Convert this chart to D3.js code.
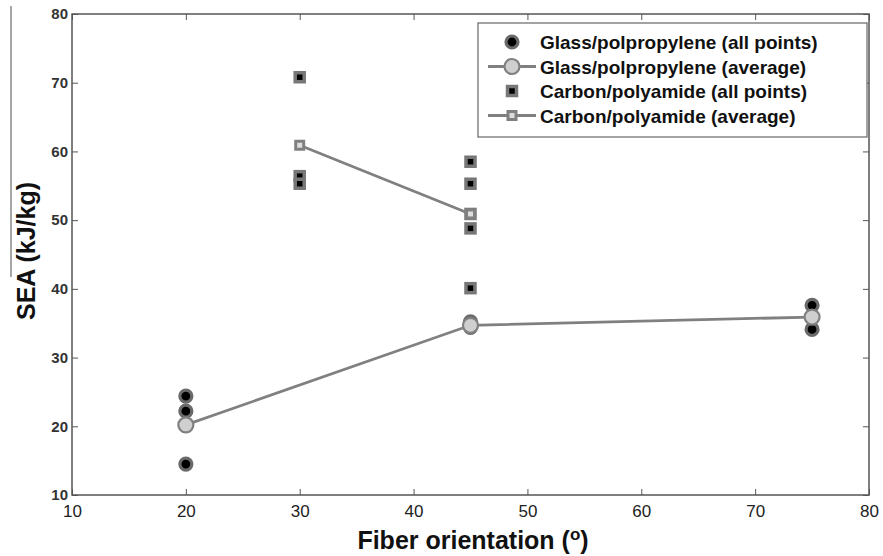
<!DOCTYPE html>
<html>
<head>
<meta charset="utf-8">
<script src="https://cdn.jsdelivr.net/npm/d3@7"></script>
<style>
  body { margin: 0; background: #fff; }
  svg { display: block; }
</style>
</head>
<body>
<svg width="883" height="556"></svg>
<script>
var width = 883;
var height = 556;

// glass/polypropylene: every measurement and the average per orientation
var glassX = [20, 20, 20, 45, 45, 75, 75];
var glassY = [24.4, 22.2, 14.5, 35.2, 34.4, 37.6, 34.1];
var glassAvgX = [20, 45, 75];
var glassAvgY = [20.2, 34.7, 35.9];

// carbon/polyamide
var carbonX = [30, 30, 30, 45, 45, 45, 45, 45];
var carbonY = [70.8, 56.4, 55.3, 58.5, 55.3, 50.9, 48.8, 40.1];
var carbonAvgX = [30, 45];
var carbonAvgY = [60.9, 50.9];

var xTicks = [10, 20, 30, 40, 50, 60, 70, 80];
var yTicks = [10, 20, 30, 40, 50, 60, 70, 80];
var legendLabels = [
    "Glass/polpropylene (all points)",
    "Glass/polpropylene (average)",
    "Carbon/polyamide (all points)",
    "Carbon/polyamide (average)"
];

var svg = d3.select('svg');
// note: "top" is reserved on window, so plot edges get their own names
var plotLeft = 72, plotRight = 869, plotTop = 14, plotBottom = 495;

var x = d3.scaleLinear().domain([10, 80]).range([plotLeft, plotRight]);
var y = d3.scaleLinear().domain([10, 80]).range([plotBottom, plotTop]);

// stray line at the left edge of the scanned figure
svg.append("line")
    .attr("x1", 11).attr("x2", 11)
    .attr("y1", 6).attr("y2", 277)
    .attr("stroke", "#8a8a8a")
    .attr("stroke-width", 1.5);

// axes, ticks pointing inward on all four sides
var axisColor = "#555";
svg.append("g")
    .attr("transform", "translate(0," + plotBottom + ")")
    .call(d3.axisBottom(x).tickValues(xTicks).tickSizeInner(-6).tickSizeOuter(0).tickPadding(4))
    .call(function (g) {
        g.select(".domain").remove();
        g.selectAll("line").attr("stroke", axisColor);
        g.selectAll("text").attr("fill", "#222")
            .attr("dy", "1.05em")
            .attr("font-family", "'Liberation Sans Narrow', 'Liberation Sans', Arial, sans-serif")
            .attr("font-size", "17px");
    });
svg.append("g")
    .attr("transform", "translate(0," + plotTop + ")")
    .call(d3.axisTop(x).tickValues(xTicks).tickSizeInner(-6).tickSizeOuter(0).tickFormat(""))
    .call(function (g) {
        g.select(".domain").remove();
        g.selectAll("line").attr("stroke", axisColor);
    });
svg.append("g")
    .attr("transform", "translate(" + plotLeft + ",0)")
    .call(d3.axisLeft(y).tickValues(yTicks).tickSizeInner(-6).tickSizeOuter(0).tickPadding(4))
    .call(function (g) {
        g.select(".domain").remove();
        g.selectAll("line").attr("stroke", axisColor);
        g.selectAll("text").attr("fill", "#333")
            .attr("font-family", "'Liberation Sans', Arial, sans-serif")
            .attr("font-weight", "bold")
            .attr("font-size", "15px");
    });
svg.append("g")
    .attr("transform", "translate(" + plotRight + ",0)")
    .call(d3.axisRight(y).tickValues(yTicks).tickSizeInner(-6).tickSizeOuter(0).tickFormat(""))
    .call(function (g) {
        g.select(".domain").remove();
        g.selectAll("line").attr("stroke", axisColor);
    });

svg.append("rect")
    .attr("x", plotLeft).attr("y", plotTop)
    .attr("width", plotRight - plotLeft).attr("height", plotBottom - plotTop)
    .attr("fill", "none")
    .attr("stroke", axisColor)
    .attr("stroke-width", 1.5);

// axis titles
svg.append("text")
    .attr("transform", "translate(35,251) rotate(-90)")
    .attr("text-anchor", "middle")
    .attr("font-family", "'Liberation Sans', Arial, sans-serif")
    .attr("font-weight", "bold")
    .attr("font-size", "25px")
    .attr("fill", "#111")
    .text("SEA (kJ/kg)");

var xTitle = svg.append("text")
    .attr("x", 473).attr("y", 549)
    .attr("text-anchor", "middle")
    .attr("font-family", "'Liberation Sans Narrow', 'Liberation Sans', Arial, sans-serif")
    .attr("font-weight", "bold")
    .attr("font-size", "25px")
    .attr("fill", "#111");
xTitle.append("tspan").text("Fiber orientation (");
xTitle.append("tspan").attr("dy", -9).attr("font-size", "17px").text("o");
xTitle.append("tspan").attr("dy", 9).text(")");

// marker helpers
function allCircle(sel) {
    sel.attr("r", 6).attr("fill", "#000").attr("stroke", "#6a6a6a").attr("stroke-width", 3.2);
}
function avgCircle(sel) {
    sel.attr("r", 7.5).attr("fill", "#cfcfcf").attr("stroke", "#808080").attr("stroke-width", 2.2);
}
function allSquare(sel, s) {
    sel.attr("width", s).attr("height", s).attr("fill", "#000").attr("stroke", "#777").attr("stroke-width", 3.5);
}
function avgSquare(sel, s) {
    sel.attr("width", s).attr("height", s).attr("fill", "#ddd").attr("stroke", "#808080").attr("stroke-width", 3);
}

var line = d3.line()
    .x(function (d) { return x(d[0]); })
    .y(function (d) { return y(d[1]); });

// carbon/polyamide
svg.selectAll(".carbon-pt")
    .data(d3.zip(carbonX, carbonY))
    .enter().append("rect")
    .attr("class", "carbon-pt")
    .attr("x", function (d) { return x(d[0]) - 4.5; })
    .attr("y", function (d) { return y(d[1]) - 4.5; })
    .call(allSquare, 9);

svg.append("path")
    .datum(d3.zip(carbonAvgX, carbonAvgY))
    .attr("d", line)
    .attr("fill", "none")
    .attr("stroke", "#808080")
    .attr("stroke-width", 2.8);

svg.selectAll(".carbon-avg")
    .data(d3.zip(carbonAvgX, carbonAvgY))
    .enter().append("rect")
    .attr("class", "carbon-avg")
    .attr("x", function (d) { return x(d[0]) - 4; })
    .attr("y", function (d) { return y(d[1]) - 4; })
    .call(avgSquare, 8);

// glass/polypropylene
svg.selectAll(".glass-pt")
    .data(d3.zip(glassX, glassY))
    .enter().append("circle")
    .attr("class", "glass-pt")
    .attr("cx", function (d) { return x(d[0]); })
    .attr("cy", function (d) { return y(d[1]); })
    .call(allCircle);

svg.append("path")
    .datum(d3.zip(glassAvgX, glassAvgY))
    .attr("d", line)
    .attr("fill", "none")
    .attr("stroke", "#808080")
    .attr("stroke-width", 2.8);

svg.selectAll(".glass-avg")
    .data(d3.zip(glassAvgX, glassAvgY))
    .enter().append("circle")
    .attr("class", "glass-avg")
    .attr("cx", function (d) { return x(d[0]); })
    .attr("cy", function (d) { return y(d[1]); })
    .call(avgCircle);

// legend
var legend = svg.append("g").attr("transform", "translate(478,23)");
legend.append("rect")
    .attr("width", 389).attr("height", 114)
    .attr("fill", "#fff")
    .attr("stroke", "#666")
    .attr("stroke-width", 1.2);

var rowY = function (i) { return 19 + i * 24.5; };
var sx = 34;

legend.append("circle").attr("cx", sx).attr("cy", rowY(0)).call(allCircle);
legend.append("line")
    .attr("x1", 10).attr("x2", 58).attr("y1", rowY(1)).attr("y2", rowY(1))
    .attr("stroke", "#808080").attr("stroke-width", 2.8);
legend.append("circle").attr("cx", sx).attr("cy", rowY(1)).call(avgCircle);
legend.append("rect").attr("x", sx - 4.5).attr("y", rowY(2) - 4.5).call(allSquare, 9);
legend.append("line")
    .attr("x1", 10).attr("x2", 58).attr("y1", rowY(3)).attr("y2", rowY(3))
    .attr("stroke", "#808080").attr("stroke-width", 2.8);
legend.append("rect").attr("x", sx - 4).attr("y", rowY(3) - 4).call(avgSquare, 8);

legend.selectAll(".leg-text")
    .data(legendLabels)
    .enter().append("text")
    .attr("class", "leg-text")
    .attr("x", 62)
    .attr("y", function (d, i) { return rowY(i) + 7; })
    .attr("font-family", "'Liberation Sans', Arial, sans-serif")
    .attr("font-weight", "bold")
    .attr("font-size", "19px")
    .attr("fill", "#111")
    .text(function (d) { return d; });
</script>
</body>
</html>
